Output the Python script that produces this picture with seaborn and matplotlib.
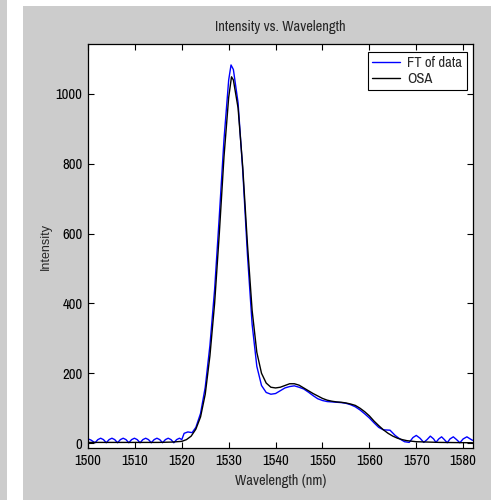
import matplotlib
matplotlib.use("Agg")
import matplotlib.pyplot as plt
import seaborn as sns
from matplotlib.patches import Rectangle

# OSA (black) trace
osa_wl = [1500, 1505, 1510, 1515, 1518, 1520, 1521, 1522, 1523, 1524, 1525, 1526,
          1527, 1528, 1529, 1530, 1530.6, 1531, 1532, 1533, 1534, 1535, 1536, 1537,
          1538, 1539, 1540, 1541, 1542, 1543, 1544, 1545, 1546, 1547, 1548, 1549,
          1550, 1551, 1552, 1553, 1554, 1555, 1556, 1557, 1558, 1559, 1560, 1561,
          1562, 1563, 1564, 1565, 1566, 1567, 1568, 1570, 1575, 1582]
osa_int = [2, 2, 2, 2, 3, 5, 10, 20, 40, 75, 140, 250,
           400, 600, 820, 990, 1049, 1040, 960, 790, 570, 380, 260, 200,
           172, 160, 158, 160, 165, 170, 170, 166, 158, 150, 142, 135,
           128, 123, 120, 118, 117, 115, 112, 108, 100, 90, 78, 63,
           50, 38, 28, 20, 14, 10, 7, 4, 2, 1]

# FT of data (blue) trace
ft_wl = [1500, 1500.6, 1501.5, 1502.1, 1502.7, 1503.3, 1503.9, 1504.5, 1505.1, 1505.7,
         1506.3, 1506.9, 1507.5, 1508.1, 1508.7, 1509.3, 1509.9, 1510.5, 1511.1, 1511.7,
         1512.3, 1512.9, 1513.5, 1514.1, 1514.7, 1515.3, 1515.9, 1516.5, 1517.1, 1517.7,
         1518.3, 1518.9, 1519.5, 1520.0, 1520.5, 1521.3, 1522.2, 1523, 1524, 1525,
         1526, 1527, 1528, 1529, 1530, 1530.5, 1531, 1532, 1533, 1534,
         1535, 1536, 1537, 1538, 1539, 1540, 1541, 1542, 1543, 1544,
         1545, 1546, 1547, 1548, 1549, 1550, 1551, 1552, 1553, 1554,
         1555, 1556, 1557, 1558, 1559, 1560, 1561, 1562, 1563, 1564.4,
         1565.5, 1566.5, 1567.5, 1568.5, 1569.3, 1570, 1570.8, 1571.6, 1572.3, 1573,
         1573.7, 1574.2, 1574.8, 1575.4, 1576.0, 1576.6, 1577.2, 1577.9, 1578.6, 1579.3,
         1580.0, 1580.8, 1581.5, 1582]
ft_int = [12, 9, 1, 10, 14, 10, 1, 10, 14, 10,
          1, 10, 14, 10, 1, 10, 14, 10, 1, 10,
          14, 10, 1, 10, 14, 10, 1, 10, 14, 10,
          1, 10, 14, 10, 28, 32, 30, 45, 85, 160,
          280, 440, 650, 870, 1040, 1083, 1070, 975, 780, 540,
          340, 220, 165, 145, 140, 142, 150, 158, 162, 164,
          160, 155, 146, 136, 127, 122, 119, 118, 117, 116,
          114, 110, 104, 95, 84, 72, 58, 45, 38, 37,
          22, 12, 4, 2, 16, 22, 14, 2, 10, 20,
          12, 2, 12, 18, 10, 1, 12, 18, 10, 1,
          12, 18, 12, 8]

x_ticks = [1500, 1510, 1520, 1530, 1540, 1550, 1560, 1570, 1580]
y_ticks = [0, 200, 400, 600, 800, 1000]

sns.set_style("ticks")
narrow = ['Archivo Narrow', 'PT Sans Narrow', 'Roboto Condensed', 'Liberation Sans', 'DejaVu Sans']
plt.rcParams['font.family'] = narrow

W, H = 491, 500
fig = plt.figure(figsize=(W / 100, H / 100), dpi=100)
fig.patch.set_facecolor('white')
gray = '#cccccc'
fig.patches.append(Rectangle((0, 0), 7 / W, 1, transform=fig.transFigure,
                             facecolor=gray, edgecolor='none', zorder=-10))
fig.patches.append(Rectangle((23 / W, 0), 1 - 23 / W, (H - 6) / H, transform=fig.transFigure,
                             facecolor=gray, edgecolor='none', zorder=-10))

ax = fig.add_axes([88 / W, (H - 448) / H, 385 / W, 404 / H])
ax.set_facecolor('white')

sns.lineplot(x=ft_wl, y=ft_int, color='#0000ff', linewidth=1.0, ax=ax,
             label='FT of data', estimator=None)
sns.lineplot(x=osa_wl, y=osa_int, color='black', linewidth=1.0, ax=ax,
             label='OSA', estimator=None)

ax.set_xlim(1500, 1582.1)
ax.set_ylim(-14, 1143)
ax.set_xticks(x_ticks)
ax.set_yticks(y_ticks)
ax.tick_params(direction='in', length=4, width=0.8, top=True, right=True,
               labelsize=10.5, pad=4, colors='black')
for s in ax.spines.values():
    s.set_visible(True)
    s.set_color('black')
    s.set_linewidth(0.9)

ax.set_title('Intensity vs. Wavelength', fontsize=10.5, pad=9)
ax.set_xlabel('Wavelength (nm)', fontsize=10.5, labelpad=5)
ax.set_ylabel('Intensity', fontsize=9, labelpad=3, family=['Liberation Sans', 'DejaVu Sans'])

leg = ax.legend(loc='upper right', bbox_to_anchor=(0.984, 0.980), borderaxespad=0,
                fancybox=False, framealpha=1, edgecolor='black', fontsize=10.5,
                handlelength=1.9, handletextpad=0.5, borderpad=0.3, labelspacing=0.1)
leg.get_frame().set_linewidth(0.8)

fig.savefig('out.png', dpi=100, facecolor=fig.get_facecolor())
